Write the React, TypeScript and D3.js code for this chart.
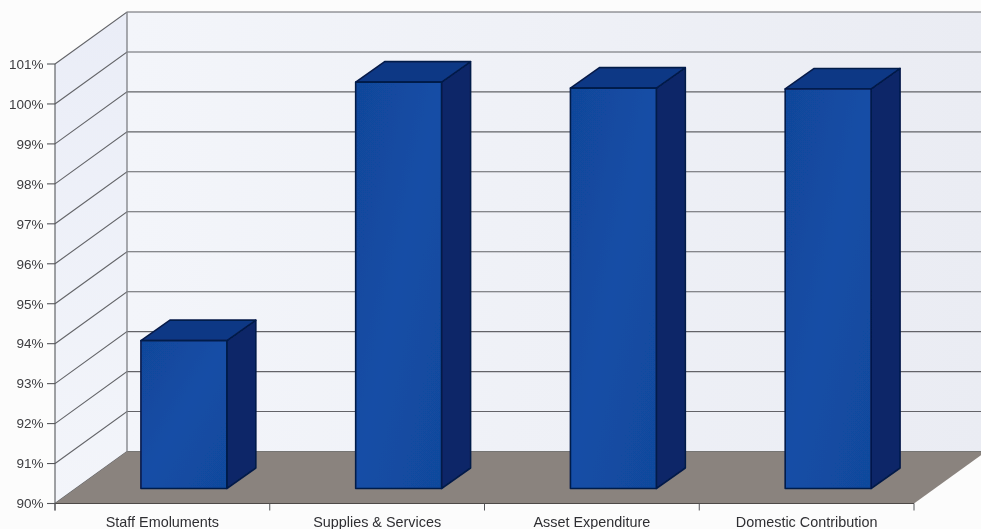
import * as d3 from 'd3';

const categories = ['Staff Emoluments', 'Supplies & Services', 'Asset Expenditure', 'Domestic Contribution'];
const values = [93.7, 100.17, 100.02, 100.0];
const yTicks = [90, 91, 92, 93, 94, 95, 96, 97, 98, 99, 100, 101];

const width = 981;
const height = 529;

// oblique projection of the box the chart sits in
const depthX = 72;
const depthY = -52;
const barDepthX = 29;
const barDepthY = -20.5;
const barShiftX = 21.5;
const barShiftY = -15;
const barRatio = 0.4;

const x = d3.scaleBand<string>().domain(categories).range([55, 914]);
const y = d3.scaleLinear().domain([90, 101]).range([503.5, 64]);

const poly = d3.line();
const pts = (p: [number, number][]) => poly(p) + 'Z';

export default function App() {
  const y0 = y(90);
  const yTop = y(101);
  const x0 = x.range()[0];
  const x1 = x.range()[1];
  const bw = x.bandwidth();

  return (
    <svg
      width={width}
      height={height}
      style={{ position: 'absolute', left: 0, top: 0, background: '#fcfcfc' }}
      fontFamily="'Liberation Sans', Arial, sans-serif"
    >
      <defs>
        <linearGradient id="front" x1="0" y1="0" x2="1" y2="1">
          <stop offset="0" stopColor="#11469a" />
          <stop offset="0.5" stopColor="#134ea6" />
          <stop offset="1" stopColor="#11499c" />
        </linearGradient>
        <linearGradient id="wall" x1="0" y1="0" x2="1" y2="0">
          <stop offset="0" stopColor="#f3f5fa" />
          <stop offset="1" stopColor="#eaecf3" />
        </linearGradient>
        <linearGradient id="side" x1="0" y1="0" x2="0" y2="1">
          <stop offset="0" stopColor="#eaedf7" />
          <stop offset="1" stopColor="#f3f5fa" />
        </linearGradient>
        <filter id="soft" x="-2%" y="-2%" width="104%" height="104%">
          <feGaussianBlur stdDeviation="0.5" />
        </filter>
      </defs>

      <g filter="url(#soft)">
        {/* walls */}
        <path
          d={pts([[x0, y0], [x0, yTop], [x0 + depthX, yTop + depthY], [x0 + depthX, y0 + depthY]])}
          fill="url(#side)"
        />
        <path
          d={pts([[x0 + depthX, yTop + depthY], [x1 + depthX, yTop + depthY], [x1 + depthX, y0 + depthY], [x0 + depthX, y0 + depthY]])}
          fill="url(#wall)"
        />

        {/* gridlines */}
        {yTicks.map((t) => (
          <path
            key={t}
            d={`M${x0},${y(t)}L${x0 + depthX},${y(t) + depthY}L${x1 + depthX},${y(t) + depthY}`}
            fill="none"
            stroke="#636468"
            strokeWidth={1.1}
          />
        ))}
        <line x1={x0 + depthX} x2={x0 + depthX} y1={yTop + depthY} y2={y0 + depthY} stroke="#85878c" strokeWidth={1.4} />

        {/* floor */}
        <path
          d={pts([[x0, y0], [x1, y0], [x1 + depthX, y0 + depthY], [x0 + depthX, y0 + depthY]])}
          fill="#8a837e"
        />
        <line x1={x0} x2={x1} y1={y0} y2={y0} stroke="#4e4a47" strokeWidth={1.2} />

        {/* axes */}
        <line x1={x0} x2={x0} y1={yTop} y2={y0 + 7} stroke="#55565a" strokeWidth={1.1} />
        {yTicks.map((t) => (
          <g key={t}>
            <line x1={x0 - 8} x2={x0} y1={y(t)} y2={y(t)} stroke="#55565a" strokeWidth={1.1} />
            <text x={43.5} y={y(t) + 4.8} textAnchor="end" fontSize={13.5} fill="#3c3c40">
              {t}%
            </text>
          </g>
        ))}
        {[...categories.map((c) => x(c) as number), x1].map((tx) => (
          <line key={tx} x1={tx} x2={tx} y1={y0} y2={y0 + 7} stroke="#55565a" strokeWidth={1} />
        ))}
        {categories.map((c) => (
          <text
            key={c}
            x={(x(c) as number) + bw / 2}
            y={526.5}
            textAnchor="middle"
            fontSize={14.4}
            fill="#2f2f33"
          >
            {c}
          </text>
        ))}

        {/* bars */}
        {categories.map((c, i) => {
          const w = bw * barRatio;
          const left = (x(c) as number) + (bw - w) / 2 + barShiftX;
          const right = left + w;
          const bottom = y0 + barShiftY;
          const top = y(values[i]) + barShiftY;
          return (
            <g key={c} stroke="#061a4a" strokeWidth={1.6} strokeLinejoin="round">
              <path
                d={pts([[right, bottom], [right, top], [right + barDepthX, top + barDepthY], [right + barDepthX, bottom + barDepthY]])}
                fill="#0a2767"
              />
              <path
                d={pts([[left, top], [right, top], [right + barDepthX, top + barDepthY], [left + barDepthX, top + barDepthY]])}
                fill="#0e3885"
              />
              <path d={pts([[left, top], [right, top], [right, bottom], [left, bottom]])} fill="url(#front)" />
            </g>
          );
        })}
      </g>
    </svg>
  );
}
